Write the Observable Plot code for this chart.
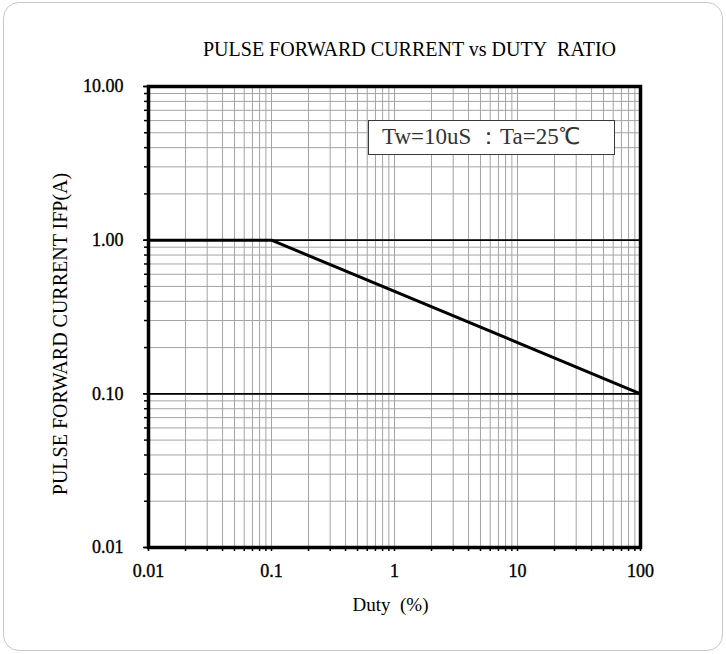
<!DOCTYPE html>
<html><head><meta charset="utf-8">
<script src="https://cdn.jsdelivr.net/npm/d3@7"></script>
<script src="https://cdn.jsdelivr.net/npm/@observablehq/plot@0.6"></script>
<style>
html,body{margin:0;padding:0;background:#fff;}
#wrap{position:relative;width:726px;height:654px;overflow:hidden;}
#card{position:absolute;left:3px;top:2px;width:718px;height:647px;border:1px solid #c8c8c8;border-radius:16px;}
#chart{position:absolute;left:0;top:0;}
#legend{position:absolute;left:368px;top:120px;width:247px;height:35px;border:1.5px solid #3a3a3a;background:#fff;font-family:"Liberation Serif",serif;font-size:23px;color:#333;line-height:32px;padding-left:13px;box-sizing:border-box;white-space:nowrap;}
g[aria-label$="tick label"] text{stroke:#000;stroke-width:0.35px;}
</style></head>
<body>
<div id="wrap"><div id="card"></div><div id="chart"></div><div id="legend"></div></div>
<script>
// data
const duty = [0.01, 0.1, 100];
const ifp = [1, 1, 0.1];
const xTicks = [0.01, 0.1, 1, 10, 100];
const xTickLabels = ["0.01", "0.1", "1", "10", "100"];
const yTicks = [0.01, 0.1, 1, 10];
const yTickLabels = ["0.01", "0.10", "1.00", "10.00"];
const yMajorGrid = [0.1, 1];
const titleText = "PULSE FORWARD CURRENT vs DUTY\u00a0 RATIO";
const yLabel = "PULSE FORWARD CURRENT IFP(A)";
const xLabel = "Duty\u00a0 (%)";
const legendText = "Tw=10uS ：Ta=25℃";

const mult = [1,2,3,4,5,6,7,8,9];
const xMinor = [0.01, 0.1, 1, 10].flatMap(d => mult.map(m => +(d*m).toPrecision(3))).concat([100]);
const yMinor = [0.01, 0.1, 1].flatMap(d => mult.map(m => +(d*m).toPrecision(3))).concat([10]);

const points = duty.map((d, i) => ({duty: d, ifp: ifp[i]}));

const chart = Plot.plot({
  width: 726, height: 654,
  marginLeft: 148, marginRight: 86, marginTop: 86, marginBottom: 107,
  x: {type: "log", domain: [0.01, 100]},
  y: {type: "log", domain: [0.01, 10]},
  style: {fontFamily: "'Liberation Serif', serif", fontSize: "16px", color: "#000", background: "transparent"},
  marks: [
    Plot.ruleX(xMinor, {stroke: "#a4a4a4", strokeWidth: 1}),
    Plot.ruleY(yMinor, {stroke: "#a4a4a4", strokeWidth: 1}),
    Plot.ruleY(yMajorGrid, {stroke: "#000", strokeWidth: 1.6}),
    Plot.axisX(xMinor, {tickSize: 4, tickFormat: () => "", label: null, strokeWidth: 1.5}),
    Plot.axisY(yMinor, {tickSize: 4, tickFormat: () => "", label: null, strokeWidth: 1.5}),
    Plot.axisX(xTicks, {tickSize: 0, tickPadding: 17, tickFormat: d => xTickLabels[xTicks.indexOf(d)], label: null, fontSize: 18}),
    Plot.axisY(yTicks, {tickSize: 5, tickPadding: 20, strokeWidth: 1.6, tickFormat: d => yTickLabels[yTicks.indexOf(d)], label: null, fontSize: 18}),
    Plot.line(points, {x: "duty", y: "ifp", stroke: "#000", strokeWidth: 3}),
    Plot.frame({stroke: "#000", strokeWidth: 3.5}),
    Plot.text([titleText], {frameAnchor: "top", lineAnchor: "middle", textAnchor: "middle", dx: 15, dy: -37, fontSize: 20}),
    Plot.text([yLabel], {frameAnchor: "left", lineAnchor: "middle", textAnchor: "middle", rotate: -90, dx: -88, dy: 17, fontSize: 20}),
    Plot.text([xLabel], {frameAnchor: "bottom", lineAnchor: "middle", textAnchor: "middle", dx: -4, dy: 57, fontSize: 19})
  ]
});
document.getElementById("chart").appendChild(chart);
document.getElementById("legend").textContent = legendText;
</script>
</body></html>
